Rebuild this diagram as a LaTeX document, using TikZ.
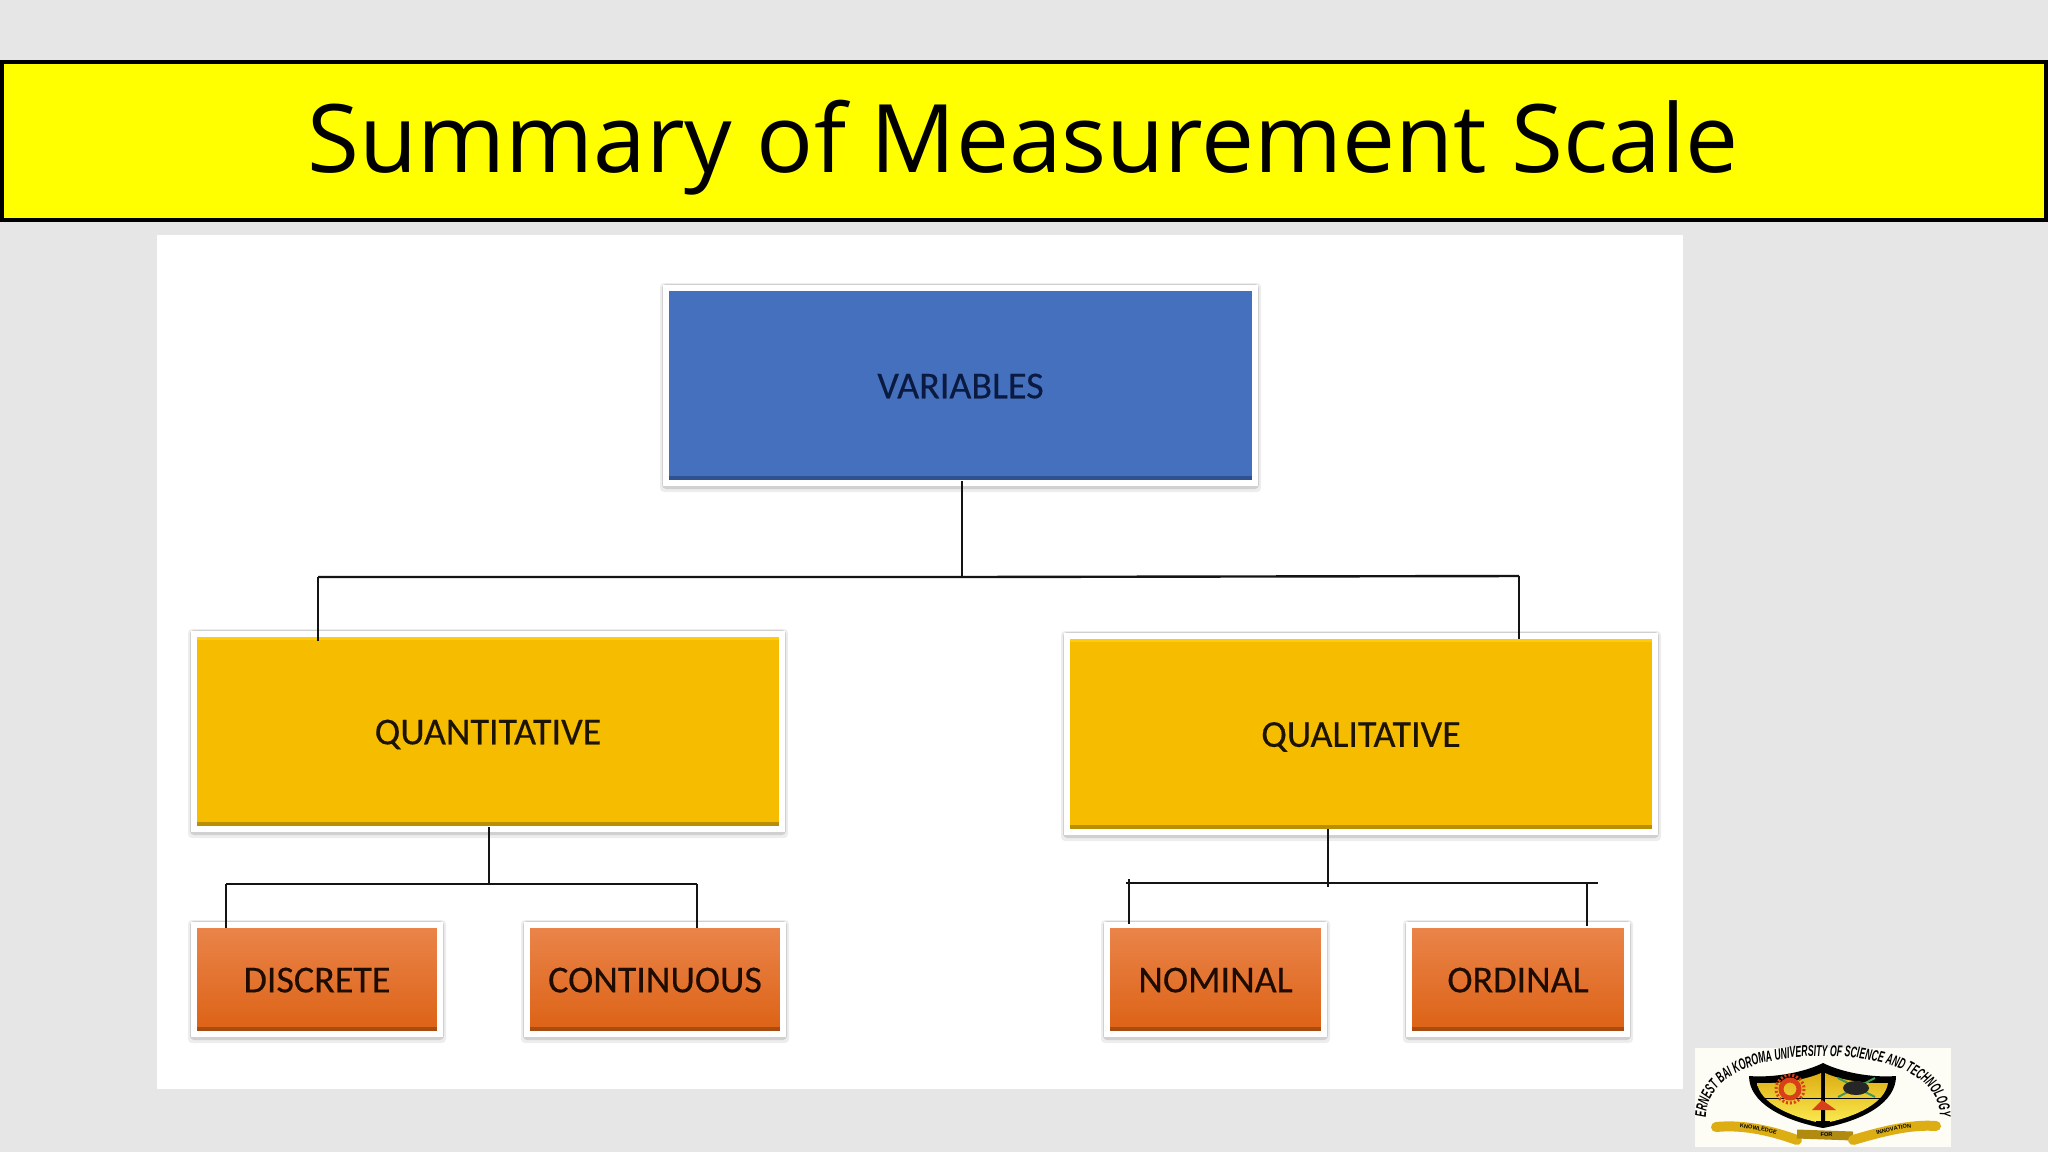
\documentclass[tikz,border=0pt]{standalone}
\usepackage{fontspec}
\setmainfont[FakeBold=0.35]{Carlito}
\newfontfamily\titlefont{Open Sans}
\newfontfamily\logofont[FakeStretch=0.56]{Liberation Sans}
\newfontfamily\logowide{Liberation Sans}
\usetikzlibrary{decorations.text,calc}
\definecolor{pagegray}{HTML}{E6E6E6}
\definecolor{titleyellow}{HTML}{FFFF00}
\definecolor{varblue}{HTML}{4470BE}
\definecolor{varbluedk}{HTML}{2F5190}
\definecolor{varink}{HTML}{0A1A40}
\definecolor{goldmain}{HTML}{F6BC00}
\definecolor{goldtop}{HTML}{FFCB0A}
\definecolor{golddk}{HTML}{B98E00}
\definecolor{goldink}{HTML}{1C1400}
\definecolor{orangetop}{HTML}{EA854A}
\definecolor{orangebot}{HTML}{DC6114}
\definecolor{orangedk}{HTML}{A84C12}
\definecolor{orangeink}{HTML}{1E0C00}
\definecolor{wirecol}{HTML}{141414}
\definecolor{logopaper}{HTML}{FDFDF6}
\definecolor{logogold}{HTML}{DDAE14}
\definecolor{logogoldlt}{HTML}{FBEA50}
\definecolor{logored}{HTML}{D8401A}
\definecolor{logogreen}{HTML}{3E9A55}
\tikzset{
  tilebase/.style={draw=white,line width=3pt,inner sep=0pt,rectangle,font=\fontsize{19}{19}\selectfont},
  tileshadow/.style={fill=black,rounded corners=2pt},
  bevel/.style={path picture={
    \fill[#1] (path picture bounding box.south west) rectangle ([yshift=3.6pt]path picture bounding box.south east);}},
  goldbevel/.style={path picture={
    \fill[golddk] (path picture bounding box.south west) rectangle ([yshift=3.6pt]path picture bounding box.south east);
    \fill[goldtop] (path picture bounding box.north west) rectangle ([yshift=-3.2pt]path picture bounding box.north east);}},
  bluebox/.style={tilebase,fill=varblue,bevel=varbluedk,text=varink},
  goldbox/.style={tilebase,fill=goldmain,goldbevel,text=goldink},
  orangebox/.style={tilebase,top color=orangetop,bottom color=orangebot,bevel=orangedk,text=orangeink},
  wire/.style={draw=wirecol,line width=1pt,line cap=butt},
  thickwire/.style={draw=wirecol,line width=1.2pt}
}
\newcommand{\tile}[7]{%
  \fill[tileshadow,opacity=.07] ({#2-9},{#3-8}) rectangle ({#4+9},{#5+12});
  \fill[tileshadow,opacity=.12] ({#2-7},{#3-7}) rectangle ({#4+7},{#5+9});
  \node[#6,minimum width={(#4-#2+6)*0.5pt},minimum height={(#5-#3+6)*0.5pt}] (#1) at ({(#2+#4)/2},{(#3+#5)/2}) {\smash{\raisebox{-6.4pt}{#7}}};}
\begin{document}
\begin{tikzpicture}[x=0.5pt,y=-0.5pt]
\useasboundingbox (0,0) rectangle (2048,1152);
\fill[pagegray] (0,0) rectangle (2048,1152);
% title band
\fill[titleyellow] (2,62) rectangle (2046,220);
\draw[black,line width=2pt] (2,62) rectangle (2046,220);
\node[anchor=base,inner sep=0pt,font=\titlefont\fontsize{47.3}{50}\selectfont,text=black] (title) at (1023,172) {Summary of Measurement Scale};
% panel
\fill[white] (157,235) rectangle (1683,1089);
% boxes
\tile{var}{669}{291}{1252}{480}{bluebox}{VARIABLES}
\tile{quant}{197}{637}{779}{826}{goldbox}{QUANTITATIVE}
\tile{qual}{1070}{639}{1652}{829}{goldbox}{QUALITATIVE}
\tile{disc}{197}{928}{437}{1031}{orangebox}{DISCRETE}
\tile{cont}{530}{928}{780}{1031}{orangebox}{CONTINUOUS}
\tile{nom}{1110}{928}{1321}{1031}{orangebox}{NOMINAL}
\tile{ord}{1412}{928}{1624}{1031}{orangebox}{ORDINAL}
% junctions
\coordinate (jv) at (962,577);
\coordinate (jql) at (318,577);
\coordinate (jqr) at (1519,576);
\coordinate (jq) at (489,884);
\coordinate (jd) at (226,884);
\coordinate (jc) at (697,884);
\coordinate (jn) at (1328,883);
\coordinate (jnl) at (1126,883);
\coordinate (jnr) at (1598,883);
\coordinate (jno) at (1129,879);
\coordinate (jor) at (1587,883);
% connectors
\draw[wire] ([yshift=2.5pt]jv |- var.south) -- (jv);
\draw[thickwire] (jql) -- (jv) -- (jqr);
\draw[wire] (jql) -- ([yshift=-5pt]jql |- quant.north);
\draw[wire] (jqr) -- ([yshift=-3pt]jqr |- qual.north);
\draw[wire] ([yshift=2.5pt]jq |- quant.south) -- (jq);
\draw[wire] (jd) -- (jc);
\draw[wire] (jd) -- ([yshift=-3pt]jd |- disc.north);
\draw[wire] (jc) -- ([yshift=-3pt]jc |- cont.north);
\draw[wire] ([yshift=3pt]jn |- qual.south) -- ([yshift=-2pt]jn);
\draw[thickwire] (jnl) -- (jnr);
\draw[wire] (jno) -- ([yshift=-1pt]jno |- nom.north);
\draw[wire] (jor) -- ([yshift=-2pt]jor |- ord.north);
% logo
\fill[logopaper] (1695,1048) rectangle (1951,1147);
\path[decorate,decoration={text along path,text align=center,
  text={|\logofont\bfseries\itshape\fontsize{7.8}{8}\selectfont\color{black}|ERNEST BAI KOROMA UNIVERSITY OF SCIENCE AND TECHNOLOGY}}]
  (1706,1118) .. controls (1706,1075) and (1760,1056) .. (1823,1056) .. controls (1886,1056) and (1940,1075) .. (1940,1118);
% shield
\fill[black] (1749,1076) .. controls (1775,1078) and (1805,1072) .. (1823,1063) .. controls (1841,1072) and (1871,1078) .. (1896,1076)
  .. controls (1896,1102) and (1865,1120) .. (1823,1128) .. controls (1781,1120) and (1749,1102) .. (1749,1076) -- cycle;
\shade[top color=logogold,bottom color=logogoldlt] (1757,1083) .. controls (1780,1084) and (1805,1080) .. (1821,1073) -- (1821,1123)
  .. controls (1787,1116) and (1760,1102) .. (1757,1083) -- cycle;
\shade[top color=logogold,bottom color=logogoldlt] (1888,1083) .. controls (1865,1084) and (1840,1080) .. (1825,1073) -- (1825,1123)
  .. controls (1859,1116) and (1885,1102) .. (1888,1083) -- cycle;
\draw[black,line width=0.5pt] (1764,1098) -- (1882,1098);
\draw[logored,line width=2.5pt] (1790,1089) circle (9);
\draw[logored,line width=1.5pt,dash pattern=on 1pt off 1pt] (1790,1089) circle (14);
\draw[logogreen,line width=1pt] (1838,1078) -- (1875,1097) (1838,1097) -- (1875,1078);
\fill[black!85] (1856,1088) ellipse (13 and 7);
\fill[logored] (1822,1100) -- (1832,1107) -- (1836,1110) -- (1812,1110) -- cycle;
\fill[black] (1821,1110) rectangle (1825,1122) (1816,1121) rectangle (1830,1124);
% ribbon
\draw[logogold,line width=5pt,line cap=round] (1716,1127) .. controls (1745,1124) and (1775,1132) .. (1797,1140);
\draw[logogold!80!black,line width=4.5pt] (1797,1134) -- (1853,1136);
\draw[logogold,line width=5pt,line cap=round] (1853,1140) .. controls (1880,1132) and (1910,1124) .. (1936,1126);
\path[decorate,decoration={text along path,text align=center,
  text={|\logowide\bfseries\fontsize{2.8}{3}\selectfont\color{black}|KNOWLEDGE}}]
  (1720,1128) .. controls (1745,1125) and (1775,1133) .. (1795,1141);
\path[decorate,decoration={text along path,text align=center,
  text={|\logowide\bfseries\fontsize{2.8}{3}\selectfont\color{black}|FOR}}]
  (1805,1136) -- (1848,1136);
\path[decorate,decoration={text along path,text align=center,
  text={|\logowide\bfseries\fontsize{2.8}{3}\selectfont\color{black}|INNOVATION}}]
  (1855,1141) .. controls (1880,1133) and (1910,1125) .. (1934,1127);
\end{tikzpicture}
\end{document}
